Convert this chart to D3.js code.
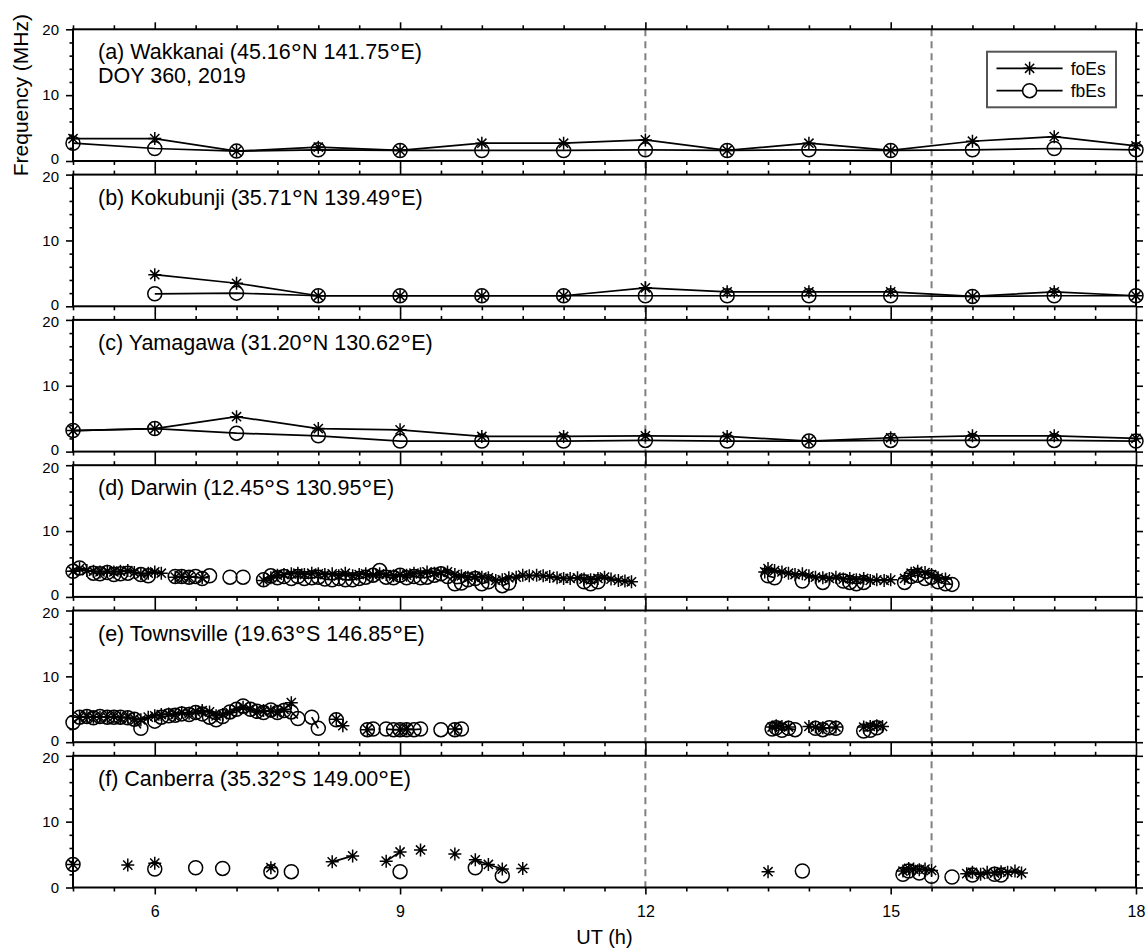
<!DOCTYPE html>
<html>
<head>
<meta charset="utf-8">
<script src="https://cdn.jsdelivr.net/npm/d3@7"></script>
<style>
  body { margin: 0; background: #fff; }
  text { font-family: "Liberation Sans", Arial, Helvetica, sans-serif; fill: #000; }
</style>
</head>
<body>
<div id="chart"></div>
<script>
// hourly ionosondes (a)-(c)
const hours = [5, 6, 7, 8, 9, 10, 11, 12, 13, 14, 15, 16, 17, 18];
const aFoEs = [3.4, 3.4, 1.5, 2.1, 1.6, 2.7, 2.7, 3.2, 1.6, 2.7, 1.6, 3.0, 3.7, 2.3];
const aFbEs = [2.7, 1.9, 1.5, 1.7, 1.6, 1.6, 1.6, 1.7, 1.6, 1.7, 1.6, 1.7, 1.9, 1.7];
const bFoEs = [null, 4.8, 3.5, 1.6, 1.6, 1.6, 1.6, 2.8, 2.2, 2.2, 2.2, 1.5, 2.2, 1.6];
const bFbEs = [null, 1.9, 2.0, 1.6, 1.6, 1.6, 1.6, 1.6, 1.6, 1.6, 1.6, 1.5, 1.6, 1.6];
const cFoEs = [3.2, 3.5, 5.3, 3.5, 3.3, 2.3, 2.3, 2.4, 2.3, 1.6, 2.1, 2.4, 2.4, 2.0];
const cFbEs = [3.2, 3.5, 2.8, 2.4, 1.6, 1.6, 1.6, 1.7, 1.6, 1.6, 1.7, 1.7, 1.7, 1.6];

// Darwin, null = no echo / data gap
const dTime = [5.00, 5.08, 5.17, 5.25, 5.33, 5.42, 5.50, 5.58, 5.67, 5.75, 5.83, 5.92, 6.00, 6.08, 6.17,
  6.25, 6.33, 6.42, 6.50, 6.58, 6.67, 6.80, 6.92, 7.00, 7.08, 7.20, 7.33, 7.42, 7.50, 7.58, 7.67, 7.75,
  7.83, 7.92, 8.00, 8.08, 8.17, 8.25, 8.33, 8.42, 8.50, 8.58, 8.67, 8.75, 8.83, 8.92, 9.00, 9.08, 9.17,
  9.25, 9.33, 9.42, 9.50, 9.58, 9.67, 9.75, 9.83, 9.92, 10.00, 10.08, 10.17, 10.25, 10.33, 10.42, 10.50,
  10.58, 10.67, 10.75, 10.83, 10.92, 11.00, 11.08, 11.17, 11.25, 11.33, 11.42, 11.50, 11.58, 11.67, 11.75,
  11.83, 12.50, 13.46, 13.50, 13.58, 13.67, 13.75, 13.83, 13.92, 14.00, 14.08, 14.17, 14.25, 14.33, 14.42,
  14.50, 14.58, 14.67, 14.75, 14.83, 14.92, 15.00, 15.08, 15.17, 15.25, 15.33, 15.42, 15.50, 15.58, 15.67, 15.75];
const dFoEs = [3.9, 4.3, 4.0, 3.9, 3.8, 3.9, 3.8, 3.9, 4.0, 3.7, 3.5, 3.6, 3.8, 3.6, null,
  3.0, 3.1, 3.0, null, 2.9, null, null, null, null, null, null, 2.5, 2.9, 3.3, 3.4, 3.5, 3.6,
  3.4, 3.6, 3.5, 3.4, 3.5, 3.2, 3.6, 3.2, 3.4, 3.5, 3.3, 3.5, 3.4, 3.2, 3.4, 3.3, 3.6,
  3.5, 3.8, 3.6, 3.7, 3.8, 3.4, 3.2, 3.0, 3.1, 3.0, 2.9, 2.5, 2.6, 2.9, 3.0, 3.3,
  3.2, 3.3, 3.2, 3.1, 2.9, 2.8, 2.8, 2.9, 2.7, 2.6, 2.8, 3.0, 2.7, 2.5, 2.4,
  2.3, null, 3.8, 4.3, 4.0, 3.8, 3.6, 3.4, 3.5, 3.2, 3.0, 2.9, 2.8, 3.0, 2.7,
  2.8, 2.6, 2.8, 2.5, 2.6, 2.5, 2.6, null, 2.8, 3.6, 3.9, 3.7, 3.4, 2.9, 2.7, null];
const dFbEs = [3.9, 4.4, null, 3.6, 3.5, 3.7, 3.4, 3.5, 3.6, null, 3.4, 3.2, null, null, null,
  3.1, 3.1, 3.0, 3.1, 2.8, 3.2, null, 3.0, null, 3.0, null, 2.6, 3.2, 2.9, 3.1, 2.8, 3.1,
  2.8, 2.9, 3.0, 2.7, 2.6, 2.8, 2.6, 2.6, 2.8, 3.0, 3.3, 4.0, 3.0, 2.9, 3.3, 2.9, 3.1,
  2.9, 3.0, 3.3, 3.5, 3.1, 2.0, 2.1, 2.6, 2.8, 2.0, 2.3, null, 1.7, 2.1, null, null,
  null, null, null, null, null, null, null, null, 2.3, 2.0, 2.3, null, null, null, null,
  null, null, null, 3.2, 2.9, null, null, null, 2.4, null, null, 2.2, null, null, 2.4,
  2.2, 2.0, 2.2, null, null, null, null, null, 2.2, 3.1, 3.3, 2.8, 3.0, 2.3, 2.0, 1.9];

// Townsville
const eTime = [5.00, 5.08, 5.17, 5.25, 5.33, 5.42, 5.50, 5.58, 5.67, 5.75, 5.83, 5.92, 6.00, 6.08, 6.17,
  6.25, 6.33, 6.42, 6.50, 6.58, 6.67, 6.75, 6.83, 6.92, 7.00, 7.08, 7.17, 7.25, 7.33, 7.42, 7.50, 7.58,
  7.67, 7.75, 7.83, 7.92, 8.00, 8.10, 8.22, 8.30, 8.45, 8.60, 8.67, 8.75, 8.83, 8.92, 9.00, 9.08, 9.17,
  9.25, 9.38, 9.50, 9.60, 9.67, 9.75, 12.00, 13.55, 13.60, 13.67, 13.75, 13.83, 13.92, 14.00, 14.08,
  14.17, 14.25, 14.33, 14.50, 14.67, 14.75, 14.83, 14.90];
const eFoEs = [null, 3.8, 3.9, 3.8, 3.8, 3.8, 3.9, 3.7, 3.8, 3.6, 3.4, 3.8, 4.0, 4.2, 4.3,
  4.2, 4.5, 4.4, 4.6, 4.8, 4.6, 4.0, 4.2, 4.5, 5.0, 5.3, 5.0, 4.6, 4.8, 4.7, 4.6, 5.0,
  6.0, null, null, null, null, null, 3.5, 2.5, null, 1.9, null, null, null, null, 1.9, 2.0, null,
  null, null, null, null, 2.0, null, null, 2.3, 2.5, 2.4, 2.3, null, null, 2.4, 2.3,
  2.2, null, 2.3, null, 2.3, 2.4, 2.5, 2.4];
const eFbEs = [3.0, 3.8, 3.9, 3.7, 3.9, 3.8, 3.8, 3.8, 3.7, 3.5, 2.1, null, 3.2, 3.8, 4.0,
  4.1, 4.3, 4.2, 4.5, 4.3, 3.8, 3.4, 3.9, 4.6, 5.0, 5.5, 5.0, 4.7, 4.5, 4.9, 4.5, 4.8,
  4.6, 3.6, null, 3.8, 2.1, null, 3.4, null, null, 1.9, 2.0, null, 2.0, 1.9, 1.9, 1.9, 1.9,
  2.0, null, 1.9, null, 1.9, 2.0, null, 2.0, 2.2, 1.8, 2.1, 1.9, null, null, 2.1,
  1.9, 2.2, 2.1, null, 1.7, 1.8, 2.2, null];

// Canberra
const fTime = [5.00, 5.50, 5.67, 5.83, 6.00, 6.25, 6.50, 6.67, 6.83, 7.17, 7.42, 7.55, 7.67, 7.90,
  8.17, 8.42, 8.60, 8.83, 9.00, 9.12, 9.25, 9.50, 9.67, 9.80, 9.92, 10.08, 10.25, 10.38, 10.50,
  12.00, 13.50, 13.70, 13.92, 14.50, 15.15, 15.22, 15.28, 15.35, 15.42, 15.50, 15.62, 15.75, 15.85,
  15.93, 16.00, 16.10, 16.18, 16.27, 16.35, 16.43, 16.52, 16.60];
const fFoEs = [3.5, null, 3.4, null, 3.7, null, null, null, null, null, 3.0, null, null, null,
  3.9, 4.8, null, 4.0, 5.4, null, 5.7, null, 5.1, null, 4.2, 3.5, 2.8, null, 2.9,
  null, 2.4, null, null, null, 2.5, 2.9, 2.8, 2.7, 2.8, 2.6, null, null, null,
  2.1, 2.3, 2.0, 2.3, 2.2, 2.4, 2.3, 2.5, 2.2];
const fFbEs = [3.5, null, null, null, 2.8, null, 3.0, null, 2.9, null, 2.4, null, 2.4, null,
  null, null, null, null, 2.4, null, null, null, null, null, 3.0, null, 1.8, null, null,
  null, null, null, 2.5, null, 2.0, 2.5, null, 2.2, null, 1.7, null, 1.6, null,
  null, 1.9, null, null, 2.0, 1.9, null, null, null];

const titles = [
  '(a) Wakkanai (45.16°N 141.75°E)',
  '(b) Kokubunji (35.71°N 139.49°E)',
  '(c) Yamagawa (31.20°N 130.62°E)',
  '(d) Darwin (12.45°S 130.95°E)',
  '(e) Townsville (19.63°S 146.85°E)',
  '(f) Canberra (35.32°S 149.00°E)'
];
const seriesNames = ['foEs', 'fbEs'];
const markLines = [12, 15.5];
const xMajor = [6, 9, 12, 15, 18];
const yMajor = [0, 10, 20];

const panels = [
  { time: hours, fo: aFoEs, fb: aFbEs },
  { time: hours, fo: bFoEs, fb: bFbEs },
  { time: hours, fo: cFoEs, fb: cFbEs },
  { time: dTime, fo: dFoEs, fb: dFbEs },
  { time: eTime, fo: eFoEs, fb: eFbEs },
  { time: fTime, fo: fFoEs, fb: fFbEs }
];

const width = 1146, height = 950;
const margin = { top: 29.3, left: 73, right: 10 };
const panelH = 131.7, panelGap = 13.6;
const bottom = margin.top + 6 * panelH + 5 * panelGap;

const svg = d3.select('#chart').append('svg')
    .attr('width', width)
    .attr('height', height);

const x = d3.scaleLinear().domain([5, 18]).range([margin.left, width - margin.right]);
const xMinor = d3.range(5, 18.01, 0.5).filter(t => xMajor.indexOf(t) < 0);
const yMinor = d3.range(2, 20, 2).filter(v => yMajor.indexOf(v) < 0);

// asterisk marker: + and x overlaid
function starPath(r) {
  const d = r * 0.7071;
  return 'M' + (-r) + ',0H' + r + 'M0,' + (-r) + 'V' + r +
    'M' + (-d) + ',' + (-d) + 'L' + d + ',' + d + 'M' + (-d) + ',' + d + 'L' + d + ',' + (-d);
}

// degree sign drawn as a raised ring, like the tex ^\circ of the original
function addDeg(textSel, str, size) {
  const parts = str.split('°');
  parts.forEach((p, i) => {
    textSel.append('tspan').attr('dy', i > 0 ? -4 : null).attr('font-size', size).text(p);
    if (i < parts.length - 1) {
      textSel.append('tspan').attr('dy', 4).attr('font-size', size * 1.3).text('°');
    }
  });
}

// dashed marker lines span all panels
svg.selectAll('.mark')
  .data(markLines)
  .enter()
  .append('line')
  .attr('x1', d => x(d)).attr('x2', d => x(d))
  .attr('y1', margin.top).attr('y2', bottom)
  .attr('stroke', '#808080')
  .attr('stroke-width', 2)
  .attr('stroke-dasharray', '7,5');

panels.forEach((p, i) => {
  const top = margin.top + i * (panelH + panelGap);
  const y = d3.scaleLinear().domain([0, 20]).range([top + panelH, top]);
  const last = i === panels.length - 1;
  const g = svg.append('g');

  const style = a => a.call(s => s.select('.domain').remove())
    .call(s => s.selectAll('line').attr('stroke', '#000').attr('stroke-width', 1.6))
    .call(s => s.selectAll('text').attr('font-size', 15).attr('font-family', '"Liberation Sans", Arial, sans-serif'));

  g.append('g').attr('transform', 'translate(0,' + (top + panelH) + ')')
    .call(d3.axisBottom(x).tickValues(xMinor).tickSize(4).tickFormat(''))
    .call(style);
  g.append('g').attr('transform', 'translate(0,' + (top + panelH) + ')')
    .call(d3.axisBottom(x).tickValues(xMajor).tickSize(7).tickPadding(11)
      .tickFormat(last ? d3.format('d') : ''))
    .call(style)
    .call(s => s.selectAll('text').attr('font-size', 16));
  g.append('g').attr('transform', 'translate(0,' + top + ')')
    .call(d3.axisTop(x).tickValues(xMinor).tickSize(4).tickFormat(''))
    .call(style);
  g.append('g').attr('transform', 'translate(0,' + top + ')')
    .call(d3.axisTop(x).tickValues(xMajor).tickSize(7).tickFormat(''))
    .call(style);

  g.append('g').attr('transform', 'translate(' + margin.left + ',0)')
    .call(d3.axisLeft(y).tickValues(yMinor).tickSize(3.5).tickFormat(''))
    .call(style);
  // the 0 and 20 labels of stacked panels sit close: nudge them apart a little
  g.append('g').attr('transform', 'translate(' + margin.left + ',0)')
    .call(d3.axisLeft(y).tickValues(yMajor).tickSize(7).tickPadding(7))
    .call(style)
    .call(s => s.selectAll('text')
      .attr('y', d => (d === 0 && !last ? -2 : 0) + (d === 20 && i > 0 ? 2 : 0)));
  g.append('g').attr('transform', 'translate(' + x(18) + ',0)')
    .call(d3.axisRight(y).tickValues(yMinor).tickSize(3.5).tickFormat(''))
    .call(style);
  g.append('g').attr('transform', 'translate(' + x(18) + ',0)')
    .call(d3.axisRight(y).tickValues(yMajor).tickSize(7).tickFormat(''))
    .call(style);

  g.append('rect')
    .attr('x', x(5)).attr('y', top)
    .attr('width', x(18) - x(5)).attr('height', panelH)
    .attr('fill', 'none')
    .attr('stroke', '#000')
    .attr('stroke-width', 2);

  const title = g.append('text')
    .attr('x', 98)
    .attr('y', top + 30)
    .attr('font-size', 21.5);
  addDeg(title, titles[i], 21.5);

  if (i === 0) {
    g.append('text')
      .attr('x', 98)
      .attr('y', top + 54)
      .attr('font-size', 21.5)
      .text('DOY 360, 2019');
  }

  const rows = p.time.map((t, k) => ({ t: t, fo: p.fo[k], fb: p.fb[k] }));

  ['fo', 'fb'].forEach(key => {
    const line = d3.line()
      .defined(d => d[key] != null)
      .x(d => x(d.t))
      .y(d => y(d[key]));
    g.append('path')
      .datum(rows)
      .attr('d', line)
      .attr('fill', 'none')
      .attr('stroke', '#000')
      .attr('stroke-width', 1.7);
  });

  g.selectAll('.star')
    .data(rows.filter(d => d.fo != null))
    .enter()
    .append('path')
    .attr('transform', d => 'translate(' + x(d.t) + ',' + y(d.fo) + ')')
    .attr('d', starPath(6.5))
    .attr('stroke', '#000')
    .attr('stroke-width', 1.5)
    .attr('fill', 'none');

  g.selectAll('.circ')
    .data(rows.filter(d => d.fb != null))
    .enter()
    .append('circle')
    .attr('cx', d => x(d.t))
    .attr('cy', d => y(d.fb))
    .attr('r', 7)
    .attr('stroke', '#000')
    .attr('stroke-width', 1.5)
    .attr('fill', 'none');
});

// legend in panel (a)
const legend = svg.append('g').attr('transform', 'translate(987,51.7)');
legend.append('rect')
  .attr('width', 129).attr('height', 55.6)
  .attr('fill', '#fff')
  .attr('stroke', '#555')
  .attr('stroke-width', 2);
seriesNames.forEach((name, k) => {
  const ly = 16.6 + k * 22.4;
  legend.append('line')
    .attr('x1', 9.5).attr('x2', 75.6)
    .attr('y1', ly).attr('y2', ly)
    .attr('stroke', '#000').attr('stroke-width', 1.7);
  if (k === 0) {
    legend.append('path')
      .attr('transform', 'translate(42.6,' + ly + ')')
      .attr('d', starPath(6.5))
      .attr('stroke', '#000').attr('stroke-width', 1.5);
  } else {
    legend.append('circle')
      .attr('cx', 42.6).attr('cy', ly).attr('r', 7)
      .attr('fill', '#fff')
      .attr('stroke', '#000').attr('stroke-width', 1.5);
  }
  legend.append('text')
    .attr('x', 83.7).attr('y', ly)
    .attr('dy', '0.36em')
    .attr('font-size', 17.5)
    .text(name);
});

svg.append('text')
  .attr('transform', 'translate(27.5,' + (margin.top + panelH / 2) + ') rotate(-90)')
  .attr('text-anchor', 'middle')
  .attr('font-size', 21)
  .text('Frequency (MHz)');

svg.append('text')
  .attr('x', (x(5) + x(18)) / 2)
  .attr('y', 944)
  .attr('text-anchor', 'middle')
  .attr('font-size', 20)
  .text('UT (h)');
</script>
</body>
</html>
